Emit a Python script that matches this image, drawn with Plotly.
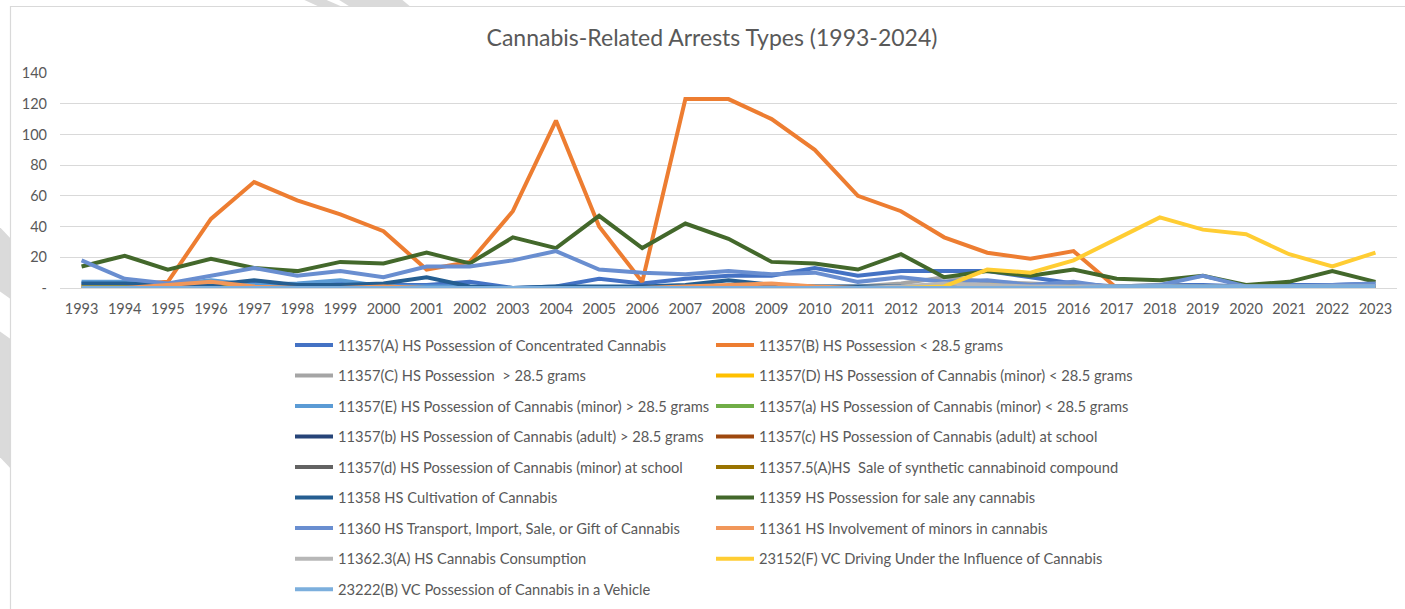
import plotly.graph_objects as go

W, H = 1405, 609
ML, MR, MT, MB = 60, 8, 73, 321

years = [str(y) for y in range(1993, 2024)]

names = [
    "11357(A) HS Possession of Concentrated Cannabis",
    "11357(B) HS Possession < 28.5 grams",
    "11357(C) HS Possession  > 28.5 grams",
    "11357(D) HS Possession of Cannabis (minor) < 28.5 grams",
    "11357(E) HS Possession of Cannabis (minor) > 28.5 grams",
    "11357(a) HS Possession of Cannabis (minor) < 28.5 grams",
    "11357(b) HS Possession of Cannabis (adult) > 28.5 grams",
    "11357(c) HS Possession of Cannabis (adult) at school",
    "11357(d) HS Possession of Cannabis (minor) at school",
    "11357.5(A)HS  Sale of synthetic cannabinoid compound",
    "11358 HS Cultivation of Cannabis",
    "11359 HS Possession for sale any cannabis",
    "11360 HS Transport, Import, Sale, or Gift of Cannabis",
    "11361 HS Involvement of minors in cannabis",
    "11362.3(A) HS Cannabis Consumption",
    "23152(F) VC Driving Under the Influence of Cannabis",
    "23222(B) VC Possession of Cannabis in a Vehicle",
]

colors = ["#4472C4", "#ED7D31", "#A5A5A5", "#FFC000", "#5B9BD5", "#70AD47",
          "#264478", "#9E480E", "#636363", "#997300", "#255E91", "#43682B",
          "#698ED0", "#F1975A", "#B7B7B7", "#FFCD33", "#7CAFDD"]

s_11357A = [3, 3, 2, 3, 3, 2, 3, 2, 2, 4, 0, 1, 6, 3, 6, 8, 8, 13, 8, 11, 11, 11, 7, 3, 1, 2, 2, 1, 2, 2, 3]
s_11357B = [1, 2, 4, 45, 69, 57, 48, 37, 12, 17, 50, 109, 40, 4, 123, 123, 110, 90, 60, 50, 33, 23, 19, 24, 0, 0, 0, 0, 0, 0, 0]
s_11357C = [0, 0, 0, 0, 0, 0, 0, 0, 0, 0, 0, 0, 0, 0, 0, 1, 1, 1, 1, 3, 7, 4, 3, 2, 1, 2, 1, 1, 1, 1, 1]
s_11357D = [1, 1, 1, 1, 1, 1, 1, 1, 0, 0, 0, 0, 0, 0, 0, 0, 0, 0, 0, 0, 0, 2, 0, 0, 0, 0, 0, 0, 0, 0, 0]
s_11357E = [4, 4, 2, 5, 2, 3, 5, 1, 1, 1, 0, 0, 0, 0, 0, 0, 0, 0, 0, 0, 0, 0, 0, 0, 0, 0, 0, 0, 0, 0, 0]
s_11357a = [0] * 31
s_11357b = [0] * 24 + [1, 1, 1, 1, 1, 1, 1]
s_11357c = [0] * 31
s_11357d = [0] * 31
s_113575A = [0] * 31
s_11358 = [3, 3, 2, 2, 5, 2, 2, 3, 7, 1, 0, 1, 1, 1, 2, 5, 2, 1, 1, 1, 1, 1, 1, 1, 0, 0, 0, 0, 0, 0, 0]
s_11359 = [14, 21, 12, 19, 13, 11, 17, 16, 23, 16, 33, 26, 47, 26, 42, 32, 17, 16, 12, 22, 7, 11, 8, 12, 6, 5, 8, 2, 4, 11, 4]
s_11360 = [18, 6, 3, 8, 13, 8, 11, 7, 14, 14, 18, 24, 12, 10, 9, 11, 9, 10, 4, 7, 4, 5, 2, 4, 0, 2, 8, 1, 1, 2, 3]
s_11361 = [0, 0, 2, 4, 1, 0, 0, 1, 0, 0, 0, 0, 0, 0, 1, 2, 3, 1, 0, 0, 0, 0, 0, 0, 0, 0, 0, 0, 0, 0, 0]
s_113623A = [0] * 19 + [1, 3, 2, 1, 1, 1, 1, 1, 1, 1, 1, 1, 1]
s_23152F = [0] * 20 + [1, 12, 10, 18, 32, 46, 38, 35, 22, 14, 23]
s_23222B = [0] * 24 + [1, 1, 1, 1, 1, 1, 1]

series = [s_11357A, s_11357B, s_11357C, s_11357D, s_11357E, s_11357a, s_11357b,
          s_11357c, s_11357d, s_113575A, s_11358, s_11359, s_11360, s_11361,
          s_113623A, s_23152F, s_23222B]

y_tickvals = [0, 20, 40, 60, 80, 100, 120, 140]
y_ticktext = ["-", "20", "40", "60", "80", "100", "120", "140"]

TXT = "#595959"
FONT = "Lato"

fig = go.Figure()
for i, (nm, col, vals) in enumerate(zip(names, colors, series)):
    fig.add_trace(go.Scatter(
        x=years, y=vals, name=nm, mode="lines",
        line=dict(color=col, width=4),
        legend="legend" if i % 2 == 0 else "legend2",
        legendgroup="g%d" % i,
    ))

pw = W - ML - MR
ph = H - MT - MB
def px_x(x):
    return (x - ML) / pw
def px_y(y):
    return (H - MB - y) / ph

shapes = []
# watermark stripes outside the chart box
stripe_paths = [
    [(300, -2), (322, -2), (345, 8), (322, 8)],
    [(336, -2), (400, -2), (412, 8), (352, 8)],
    [(-2, 225), (12, 240), (12, 300), (-2, 290)],
    [(-2, 330), (12, 340), (12, 470), (-2, 455)],
]
for poly in stripe_paths:
    d = "M " + " L ".join("%f,%f" % (px_x(a), px_y(b)) for a, b in poly) + " Z"
    shapes.append(dict(type="path", xref="paper", yref="paper", path=d,
                       fillcolor="#DADADA", line=dict(width=0), layer="below"))
# chart box
shapes.append(dict(type="rect", xref="paper", yref="paper",
                   x0=px_x(10.5), x1=px_x(1412), y0=px_y(620), y1=px_y(6.5),
                   fillcolor="white", line=dict(color="#D9D9D9", width=1.2),
                   layer="below"))

fig.update_layout(
    width=W, height=H,
    margin=dict(l=ML, r=MR, t=MT, b=MB, autoexpand=False),
    paper_bgcolor="white",
    plot_bgcolor="rgba(0,0,0,0)",
    font=dict(family=FONT, color=TXT, size=14),
    title=dict(text="Cannabis-Related Arrests Types (1993-2024)",
               x=712 / W, xanchor="center", xref="container",
               y=1 - 38 / H, yanchor="middle", yref="container",
               font=dict(family=FONT, size=23, color=TXT)),
    xaxis=dict(type="category", range=[-0.5, 30.5], showgrid=False,
               showline=False, zeroline=False, ticks="", automargin=False,
               tickfont=dict(size=14.5, color=TXT), ticklabelstandoff=10),
    yaxis=dict(range=[0, 140], tickvals=y_tickvals, ticktext=y_ticktext,
               showgrid=True, gridcolor="#D9D9D9", gridwidth=1, automargin=False,
               zeroline=True, zerolinecolor="#D9D9D9", zerolinewidth=1,
               showline=False, ticks="", tickfont=dict(size=14.5, color=TXT),
               ticklabelstandoff=12),
    legend=dict(xref="container", yref="container", x=290 / W, y=1 - 329 / H,
                xanchor="left", yanchor="top", orientation="v",
                tracegroupgap=8.4, itemwidth=38, bgcolor="rgba(0,0,0,0)",
                font=dict(size=14.7, color=TXT, family=FONT)),
    legend2=dict(xref="container", yref="container", x=711 / W, y=1 - 329 / H,
                 xanchor="left", yanchor="top", orientation="v",
                 tracegroupgap=8.4, itemwidth=38, bgcolor="rgba(0,0,0,0)",
                 font=dict(size=14.7, color=TXT, family=FONT)),
    shapes=shapes,
    showlegend=True,
)

fig.write_html("out.html", config={"displayModeBar": False},
               post_script="document.body.style.margin='0';document.body.style.overflow='hidden';")
